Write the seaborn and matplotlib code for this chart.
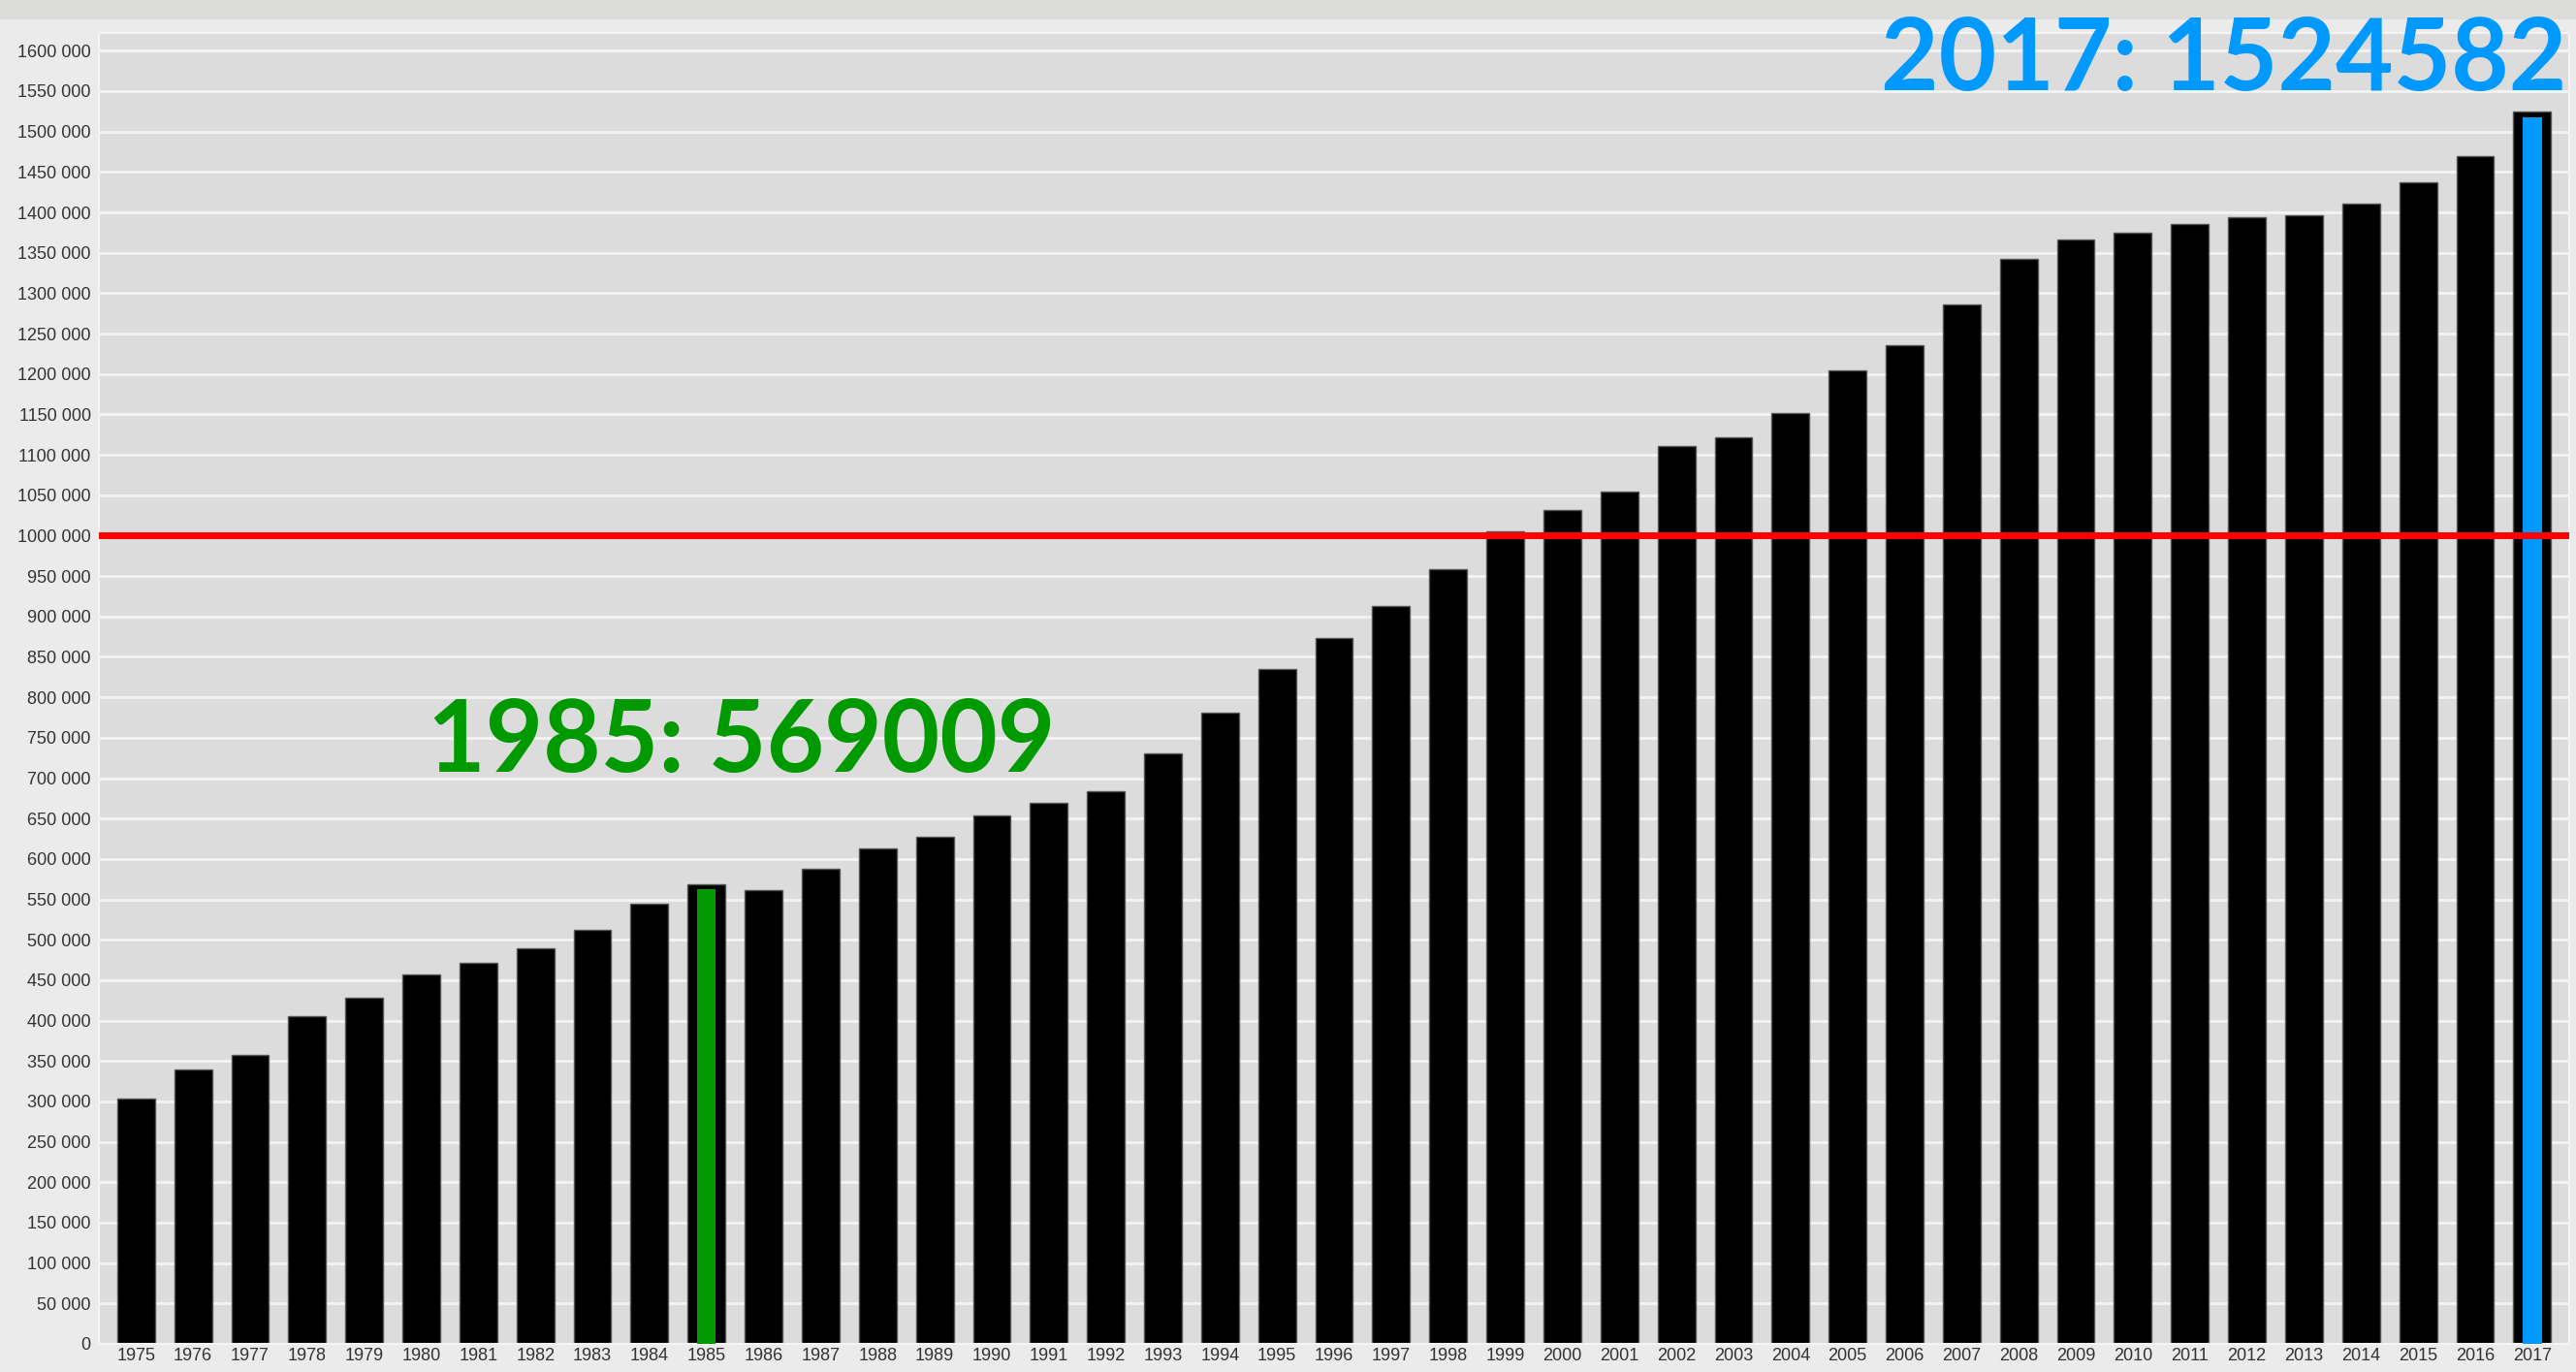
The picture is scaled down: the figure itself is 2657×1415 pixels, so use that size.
import numpy as np
import pandas as pd
import seaborn as sns
import matplotlib.pyplot as plt
from matplotlib.patches import Rectangle
from matplotlib.ticker import FuncFormatter, MultipleLocator

years = list(range(1975, 2018))
values = [303000, 339000, 358000, 405000, 428000, 457000, 472000, 489000, 512000, 545000,
          569009, 562000, 588000, 613000, 628000, 654000, 669000, 684000, 730000, 781000,
          835000, 873000, 913000, 958000, 1005000, 1032000, 1054000, 1111000, 1122000, 1152000,
          1205000, 1236000, 1286000, 1343000, 1366000, 1375000, 1386000, 1394000, 1396000, 1411000,
          1437000, 1469000, 1524582]
highlights = {1985: "#009900", 2017: "#0099ff"}
threshold = 1000000

data = pd.DataFrame({"year": [str(y) for y in years], "count": values})
order = list(data["year"])

sns.set_style("darkgrid", {"axes.facecolor": "#dcdcdc", "grid.color": "#f4f4f4",
                           "axes.edgecolor": "#f4f4f4", "figure.facecolor": "#ebebeb"})
plt.rcParams['font.family'] = ['Liberation Sans', 'DejaVu Sans']

fig = plt.figure(figsize=(26.57, 14.15), dpi=100)
fig.patches.append(Rectangle((0, 1 - 19 / 1415), 1, 19 / 1415, transform=fig.transFigure,
                             color="#dcdcda", zorder=0))
ax = fig.add_axes([0.0384, 0.0205, 0.9590, 0.9555])

sns.barplot(data=data, x="year", y="count", order=order, color="black", width=0.66,
            saturation=1, edgecolor="#555555", linewidth=1, ax=ax, zorder=2)
n_before = len(ax.patches)
for yr, col in highlights.items():
    hv = [v if y == yr else 0 for y, v in zip(years, values)]
    sns.barplot(x=order, y=hv, order=order, color=col, width=0.33, saturation=1,
                linewidth=0, ax=ax, zorder=3)
# leave a thin black cap above the coloured inner bar
for p in ax.patches[n_before:]:
    if p.get_height() > 0:
        p.set_height(p.get_height() - 2500)
        p.set_y(-4000)

ax.axhline(threshold, color="#ff0000", linewidth=5, zorder=4)

ax.set_xlim(-0.65, len(years) - 0.35)
ax.set_ylim(0, 1622000)
ax.yaxis.set_major_locator(MultipleLocator(50000))
ax.yaxis.set_major_formatter(FuncFormatter(
    lambda v, p: "0" if v == 0 else f"{int(v) // 1000} {int(v) % 1000:03d}"))
ax.grid(axis="x", visible=False)
ax.grid(axis="y", linewidth=2)
ax.tick_params(axis="both", length=0, labelsize=13, labelcolor="#333333")
ax.tick_params(axis="y", pad=6)
ax.tick_params(axis="x", pad=3)
ax.set_xlabel("")
ax.set_ylabel("")
for s in ax.spines.values():
    s.set_linewidth(1.5)

fig.text(2647 / 2657, 1 - 93 / 1415, "2017: 1524582", color="#0099ff", fontsize=74,
         fontweight="bold", family=["Lato", "DejaVu Sans"], ha="right", va="baseline")
fig.text(441 / 2657, 1 - 796 / 1415, "1985: 569009", color="#009900", fontsize=74,
         fontweight="bold", family=["Lato", "DejaVu Sans"], ha="left", va="baseline")

fig.savefig("out.png", dpi=100)
